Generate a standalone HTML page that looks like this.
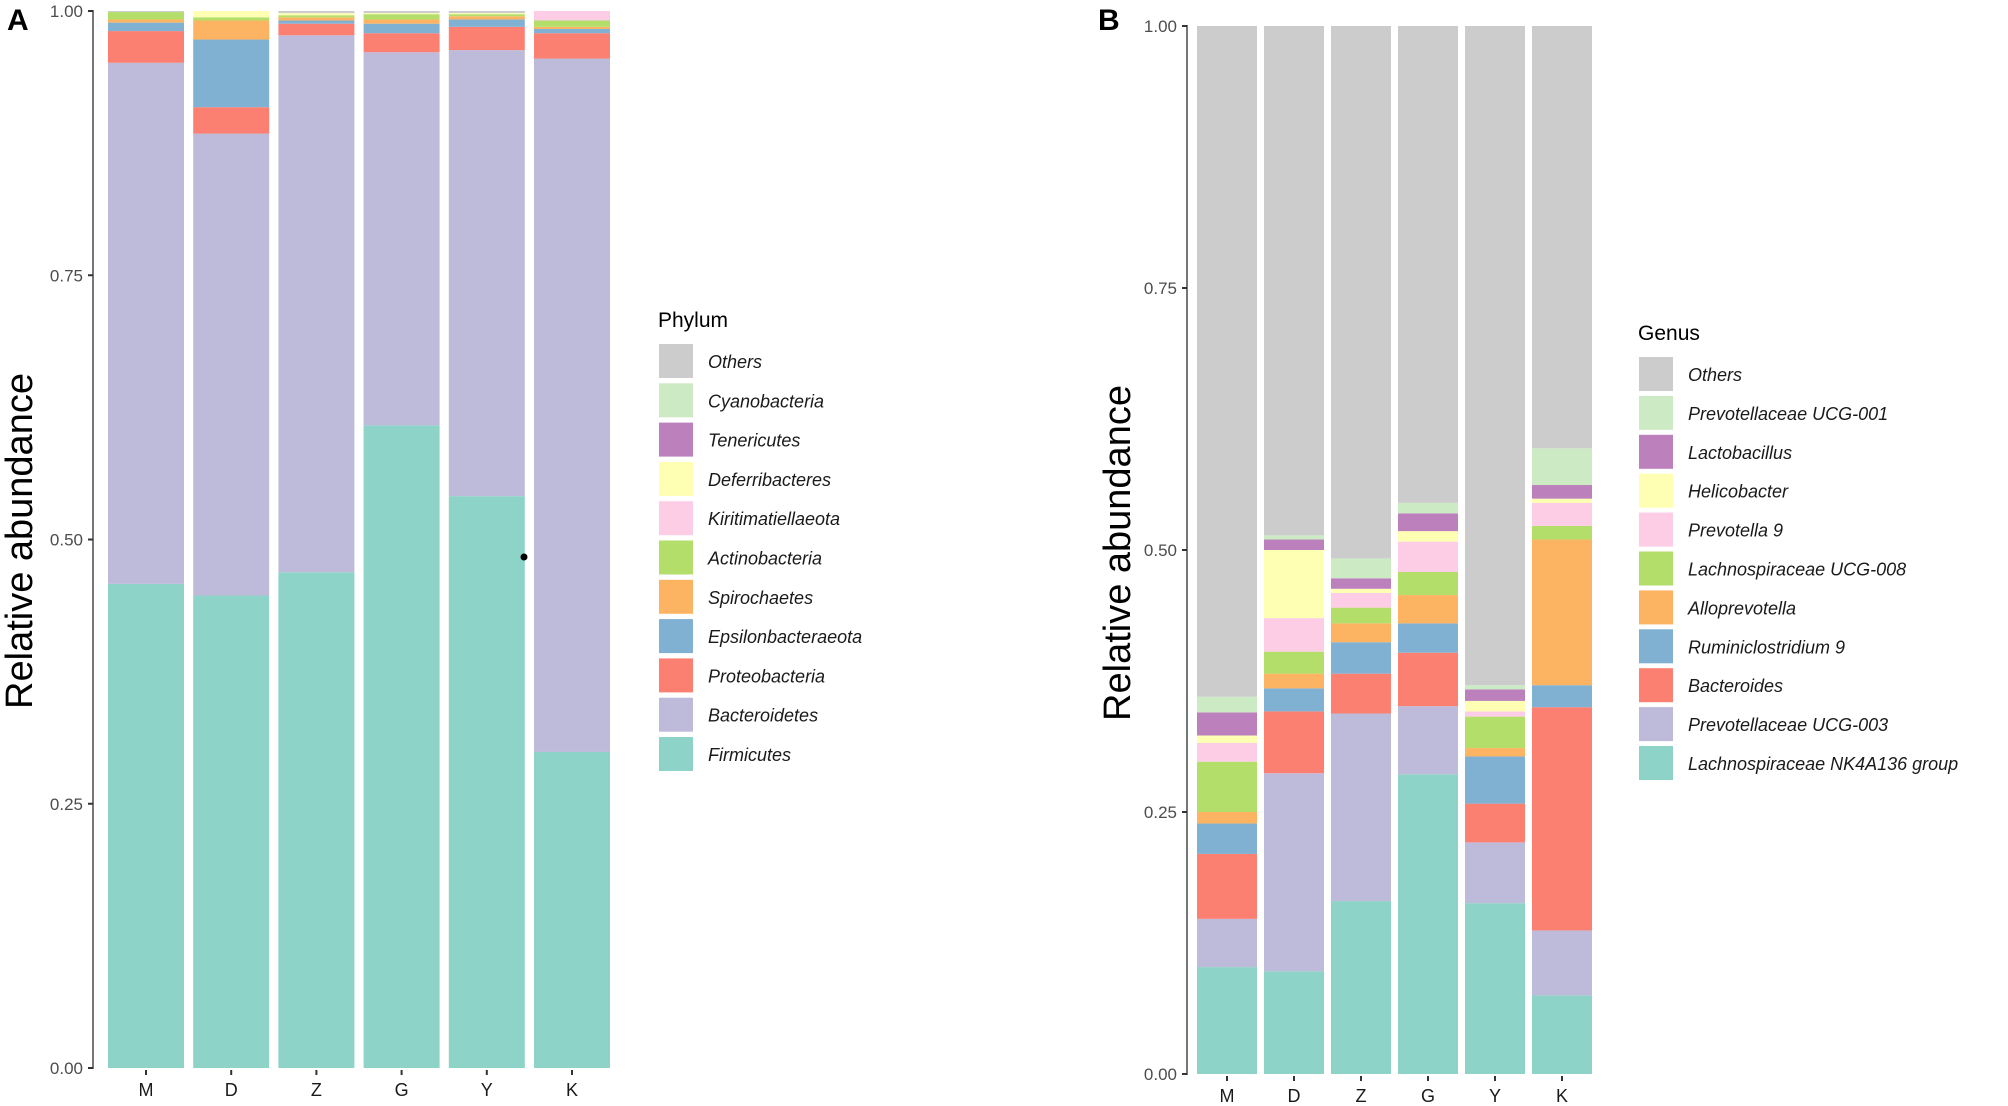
<!DOCTYPE html>
<html><head><meta charset="utf-8"><style>
html,body{margin:0;padding:0;background:#fff;}
svg{display:block;font-family:"Liberation Sans",sans-serif;}
</style></head><body>
<svg id="chart" width="2008" height="1106" viewBox="0 0 2008 1106" xmlns="http://www.w3.org/2000/svg">
<defs><clipPath id="legClipA"><rect x="0" y="0" width="870" height="1106"/></clipPath></defs>
<rect x="0" y="0" width="2008" height="1106" fill="#fff"/>
<text x="7" y="30" font-size="30" font-weight="bold" fill="#000">A</text>
<text x="1098" y="30" font-size="30" font-weight="bold" fill="#000">B</text>
<g id="panelA"></g>
<g id="panelB"></g>
</svg>
<script>
const categories = ["M","D","Z","G","Y","K"];
const ticks = [0, 0.25, 0.5, 0.75, 1];
const tickLabels = ["0.00","0.25","0.50","0.75","1.00"];

// Panel A (Phylum), stacking order bottom -> top
const phylumNames = ["Firmicutes","Bacteroidetes","Proteobacteria","Epsilonbacteraeota","Spirochaetes","Actinobacteria","Kiritimatiellaeota","Deferribacteres","Tenericutes","Cyanobacteria","Others"];
const firmicutes      = [0.458,0.447,0.469,0.608,0.541,0.299];
const bacteroidetes   = [0.493,0.437,0.508,0.353,0.422,0.656];
const proteobacteria  = [0.030,0.025,0.011,0.018,0.022,0.024];
const epsilonbact     = [0.008,0.064,0.003,0.009,0.007,0.004];
const spirochaetes    = [0.003,0.018,0.003,0.004,0.003,0.002];
const actinobacteria  = [0.007,0.003,0.002,0.005,0.002,0.006];
const kiritimatiell   = [0.000,0.000,0.000,0.000,0.000,0.009];
const deferribacteres = [0.000,0.006,0.002,0.001,0.001,0.000];
const tenericutes     = [0.000,0.000,0.000,0.000,0.000,0.000];
const cyanobacteria   = [0.000,0.000,0.000,0.000,0.000,0.000];

// Panel B (Genus), stacking order bottom -> top
const genusNames = ["Lachnospiraceae NK4A136 group","Prevotellaceae UCG-003","Bacteroides","Ruminiclostridium 9","Alloprevotella","Lachnospiraceae UCG-008","Prevotella 9","Helicobacter","Lactobacillus","Prevotellaceae UCG-001","Others"];
const lachnoNK      = [0.102,0.098,0.165,0.286,0.163,0.075];
const prevUCG003    = [0.046,0.189,0.179,0.065,0.058,0.062];
const bacteroides   = [0.062,0.059,0.038,0.051,0.037,0.213];
const rumini9       = [0.029,0.022,0.030,0.028,0.045,0.021];
const alloprev      = [0.011,0.014,0.018,0.027,0.008,0.139];
const lachnoUCG008  = [0.048,0.021,0.015,0.022,0.030,0.013];
const prevotella9   = [0.018,0.032,0.014,0.029,0.005,0.022];
const helicobacter  = [0.007,0.065,0.004,0.010,0.010,0.004];
const lactobacillus = [0.022,0.010,0.010,0.017,0.011,0.013];
const prevUCG001    = [0.015,0.004,0.019,0.010,0.004,0.035];

const colors = ["#8DD3C7","#BEBADA","#FB8072","#80B1D3","#FDB462","#B3DE69","#FCCDE5","#FFFFB3","#BC80BD","#CCEBC5","#CCCCCC"];

const NS = "http://www.w3.org/2000/svg";
function mk(tag, attrs, parent){ const e=document.createElementNS(NS,tag); for(const k in attrs) e.setAttribute(k,attrs[k]); parent.appendChild(e); return e; }

function drawPanel(g, cfg){
  const yS = v => cfg.y0 - v*(cfg.y0-cfg.y1);
  const xS = i => cfg.barX0 + i*cfg.step;
  categories.forEach((c,i)=>{
    let cum = 0;
    const segs = cfg.series.map(s=>s[i]);
    const others = Math.max(0, 1 - segs.reduce((a,b)=>a+b,0));
    segs.push(others);
    segs.forEach((v,k)=>{
      if(v<=0) return;
      const r = mk("rect",{x:xS(i), y:yS(cum+v), width:cfg.barW, height:Math.max(0,yS(cum)-yS(cum+v)), fill:cfg.colors[k]}, g);
      
      
      cum += v;
    });
    const cx = xS(i)+cfg.barW/2;
    mk("line",{x1:cx,x2:cx,y1:cfg.y0+2,y2:cfg.y0+7,stroke:"#333","stroke-width":2},g);
    const t = mk("text",{x:cx,y:cfg.y0+28,"font-size":18,"text-anchor":"middle",fill:"#1a1a1a"},g);
    t.textContent = c;
    
    
  });
  const ax = mk("line",{x1:cfg.axX,x2:cfg.axX,y1:cfg.y1-1,y2:cfg.y0+1,stroke:"#555","stroke-width":1.6},g);
  
  
  ticks.forEach((tv,j)=>{
    const y = yS(tv);
    mk("line",{x1:cfg.axX-5,x2:cfg.axX,y1:y,y2:y,stroke:"#333","stroke-width":2},g);
    const t = mk("text",{x:cfg.axX-10,y:y+6,"font-size":17,"text-anchor":"end",fill:"#4d4d4d"},g);
    t.textContent = tickLabels[j];
    
    
  });
  const yt = mk("text",{x:0,y:0,"font-size":38,"text-anchor":"middle",fill:"#000",transform:"translate("+cfg.titleX+","+cfg.titleY+") rotate(-90)"},g);
  yt.textContent = "Relative abundance";
  
  
  const lt = mk("text",{x:cfg.legX-1,y:cfg.legTitleY,"font-size":21,fill:"#000"},g);
  lt.textContent = cfg.legendTitle;
  
  
  for(let k=cfg.names.length-1, r=0; k>=0; k--, r++){
    const y = cfg.legY + r*cfg.legStep;
    const key = mk("rect",{x:cfg.legX, y:y, width:34, height:34, fill:cfg.colors[k]},g);
    
    
    const lbl = mk("text",{x:cfg.legX+49, y:y+24, "font-size":18, "font-style":"italic", fill:"#1a1a1a"},g);
    if(cfg.clip) lbl.setAttribute('clip-path', cfg.clip);
    lbl.textContent = cfg.names[k];
    
    
  }
}

drawPanel(document.getElementById('panelA'), {
  series:[firmicutes,bacteroidetes,proteobacteria,epsilonbact,spirochaetes,actinobacteria,kiritimatiell,deferribacteres,tenericutes,cyanobacteria],
  names:phylumNames, colors:colors, legendTitle:"Phylum",
  y0:1068, y1:11, axX:93, barX0:108, barW:76, step:85.2,
  titleX:32, titleY:541, legX:659, legY:344, legStep:39.3, legTitleY:327, clip:"url(#legClipA)"
});
drawPanel(document.getElementById('panelB'), {
  series:[lachnoNK,prevUCG003,bacteroides,rumini9,alloprev,lachnoUCG008,prevotella9,helicobacter,lactobacillus,prevUCG001],
  names:genusNames, colors:colors, legendTitle:"Genus",
  y0:1074, y1:26, axX:1187, barX0:1197, barW:60, step:67,
  titleX:1130, titleY:553, legX:1639, legY:357, legStep:38.9, legTitleY:340, clip:null
});
const dot = mk("circle",{cx:524, cy:557, r:3.5, fill:"#000"}, document.getElementById('panelA'));


</script>
</body></html>
